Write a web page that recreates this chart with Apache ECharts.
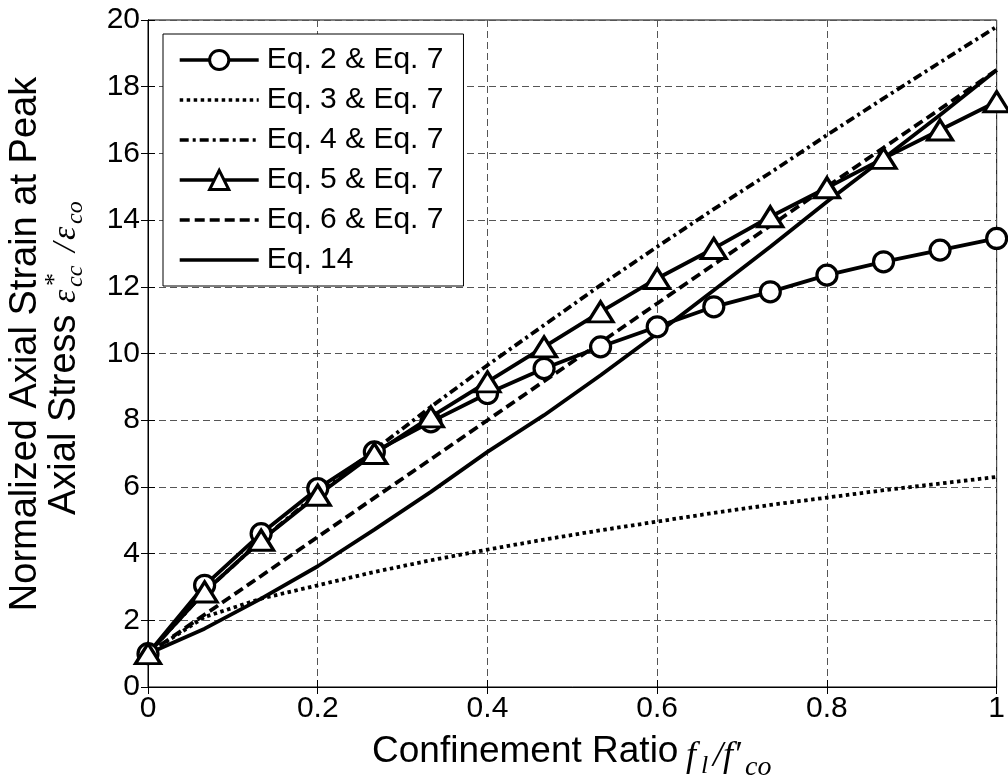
<!DOCTYPE html>
<html><head><meta charset="utf-8">
<script src="https://cdn.jsdelivr.net/npm/echarts@6/dist/echarts.min.js"></script>
<style>html,body{margin:0;padding:0;background:#fff}#c{width:1008px;height:782px}</style>
</head><body><div id="c"></div>
<script>
// Confinement ratio positions (x)
const ratio = [0, 0.0667, 0.1333, 0.2, 0.2667, 0.3333, 0.4, 0.4667, 0.5333, 0.6, 0.6667, 0.7333, 0.8, 0.8667, 0.9333, 1];
// Normalized axial strain values
const eq2eq7 = [1.0, 3.05, 4.6, 5.95, 7.05, 7.95, 8.8, 9.55, 10.2, 10.8, 11.4, 11.85, 12.35, 12.75, 13.1, 13.45];
const eq3eq7 = [1.0, 2.1, 2.65, 3.05, 3.45, 3.8, 4.12, 4.42, 4.7, 4.96, 5.22, 5.46, 5.68, 5.9, 6.1, 6.3];
const eq4eq7 = [1.0, 2.85, 4.4, 5.8, 7.1, 8.4, 9.65, 10.85, 12.05, 13.2, 14.33, 15.42, 16.55, 17.65, 18.73, 19.8];
const eq5eq7 = [1.0, 2.85, 4.4, 5.75, 7.0, 8.1, 9.15, 10.2, 11.25, 12.25, 13.15, 14.1, 14.97, 15.85, 16.7, 17.55];
const eq6eq7 = [1.0, 2.17, 3.33, 4.5, 5.67, 6.83, 8.0, 9.17, 10.33, 11.5, 12.67, 13.83, 15.0, 16.17, 17.33, 18.5];
const eq14   = [1.0, 1.75, 2.65, 3.62, 4.72, 5.85, 7.05, 8.15, 9.35, 10.6, 11.9, 13.2, 14.55, 15.85, 17.15, 18.5];
const seriesNames = ['Eq. 2 & Eq. 7', 'Eq. 3 & Eq. 7', 'Eq. 4 & Eq. 7', 'Eq. 5 & Eq. 7', 'Eq. 6 & Eq. 7', 'Eq. 14'];
// Tick labels
const xTickLabels = ['0', '0.2', '0.4', '0.6', '0.8', '1'];
const yTickLabels = ['0', '2', '4', '6', '8', '10', '12', '14', '16', '18', '20'];

const pairs = ys => ratio.map((x, i) => [x, ys[i]]);
const SANS = '"Liberation Sans", Arial, sans-serif';
const SERIF = '"Liberation Serif", "Times New Roman", serif';
const LW = 3.8;

function mk(name, ys, dash, symbol, symSize) {
  return {
    name: name, type: 'line', data: pairs(ys),
    xAxisIndex: 0, yAxisIndex: 0,
    symbol: symbol || 'none', symbolSize: symSize || 0, showSymbol: !!symbol,
    itemStyle: { color: '#fff', borderColor: '#000', borderWidth: 3.2 },
    lineStyle: { color: '#000', width: LW, type: dash },
    emphasis: { disabled: true }, z: 3
  };
}

const splitStyle = { show: true, lineStyle: { color: '#555', width: 1, type: [7, 4] } };
const axLine = { show: true, lineStyle: { color: '#000', width: 1 } };
const tick = { show: true, inside: true, length: 7, lineStyle: { color: '#000', width: 1 } };

const legendData = seriesNames.map((n, i) => (i === 0 || i === 3) ? { name: n } : { name: n, itemStyle: { opacity: 0, borderWidth: 0 } });

const chart = echarts.init(document.getElementById('c'), null, { renderer: 'canvas' });
chart.setOption({
  animation: false,
  backgroundColor: '#fff',
  grid: { left: 148, right: 6, top: 20, bottom: 95, show: true, borderColor: '#000', borderWidth: 1, backgroundColor: 'transparent' },
  xAxis: [
    { type: 'value', min: 0, max: 1, interval: 0.2, position: 'bottom',
      axisLine: axLine, axisTick: tick, splitLine: splitStyle,
      axisLabel: { color: '#000', fontSize: 30, fontFamily: SANS, margin: 7,
        formatter: v => xTickLabels[Math.round(v / 0.2)] } },
    { type: 'value', min: 0, max: 1, interval: 0.2, position: 'top',
      axisLine: axLine, axisTick: tick, splitLine: { show: false }, axisLabel: { show: false } }
  ],
  yAxis: [
    { type: 'value', min: 0, max: 20, interval: 2, position: 'left',
      axisLine: axLine, axisTick: tick, splitLine: splitStyle,
      axisLabel: { color: '#000', fontSize: 30, fontFamily: SANS, margin: 8,
        formatter: v => yTickLabels[Math.round(v / 2)] } },
    { type: 'value', min: 0, max: 20, interval: 2, position: 'right',
      axisLine: axLine, axisTick: tick, splitLine: { show: false }, axisLabel: { show: false } }
  ],
  legend: {
    orient: 'vertical', left: 163, top: 34,
    itemWidth: 79, itemHeight: 24, itemGap: 10,
    padding: [11, 20, 11, 15],
    borderColor: '#000', borderWidth: 1, backgroundColor: '#fff',
    lineStyle: { width: 3.4 },
    itemStyle: { borderWidth: 3 },
    textStyle: { color: '#000', fontSize: 30, fontFamily: SANS, padding: [0, 0, 0, 3] },
    data: legendData
  },
  series: [
    mk(seriesNames[0], eq2eq7, 'solid', 'circle', 20),
    mk(seriesNames[1], eq3eq7, [3.5, 3.5]),
    mk(seriesNames[2], eq4eq7, [9, 4, 3, 4]),
    mk(seriesNames[3], eq5eq7, 'solid', 'triangle', [25, 20]),
    mk(seriesNames[4], eq6eq7, [10, 5]),
    mk(seriesNames[5], eq14, 'solid')
  ],
  graphic: [
    // x-axis title
    { type: 'text', x: 372, y: 752, style: { text: 'Confinement Ratio', font: '37px ' + SANS, fill: '#000', textAlign: 'left', textVerticalAlign: 'middle' } },
    { type: 'text', x: 686, y: 757, style: { text: 'f', font: 'italic 36px ' + SERIF, fill: '#000', textAlign: 'left', textVerticalAlign: 'middle' } },
    { type: 'text', x: 701, y: 766, style: { text: 'l', font: 'italic 26px ' + SERIF, fill: '#000', textAlign: 'left', textVerticalAlign: 'middle' } },
    { type: 'text', x: 713, y: 757, style: { text: '/f\u2032', font: 'italic 36px ' + SERIF, fill: '#000', textAlign: 'left', textVerticalAlign: 'middle' } },
    { type: 'text', x: 745, y: 768, style: { text: 'co', font: 'italic 28px ' + SERIF, fill: '#000', textAlign: 'left', textVerticalAlign: 'middle' } },
    // y-axis title (rotated)
    { type: 'text', x: 26, y: 344, rotation: Math.PI / 2, style: { text: 'Normalized Axial Strain at Peak', font: '38px ' + SANS, fill: '#000', textAlign: 'center', textVerticalAlign: 'middle' } },
    { type: 'text', x: 65, y: 515, rotation: Math.PI / 2, style: { text: 'Axial Stress', font: '38px ' + SANS, fill: '#000', textAlign: 'left', textVerticalAlign: 'middle' } },
    { type: 'text', x: 66, y: 303, rotation: Math.PI / 2, style: { text: '\u03B5', font: 'italic 34px ' + SERIF, fill: '#000', textAlign: 'left', textVerticalAlign: 'middle' } },
    { type: 'text', x: 55, y: 286, rotation: Math.PI / 2, style: { text: '*', font: '26px ' + SERIF, fill: '#000', textAlign: 'left', textVerticalAlign: 'middle' } },
    { type: 'text', x: 76, y: 287, rotation: Math.PI / 2, style: { text: 'cc', font: 'italic 24px ' + SERIF, fill: '#000', textAlign: 'left', textVerticalAlign: 'middle' } },
    { type: 'text', x: 66, y: 252, rotation: Math.PI / 2, style: { text: '/', font: 'italic 34px ' + SERIF, fill: '#000', textAlign: 'left', textVerticalAlign: 'middle' } },
    { type: 'text', x: 66, y: 240, rotation: Math.PI / 2, style: { text: '\u03B5', font: 'italic 34px ' + SERIF, fill: '#000', textAlign: 'left', textVerticalAlign: 'middle' } },
    { type: 'text', x: 76, y: 224, rotation: Math.PI / 2, style: { text: 'co', font: 'italic 24px ' + SERIF, fill: '#000', textAlign: 'left', textVerticalAlign: 'middle' } }
  ]
});
</script></body></html>
